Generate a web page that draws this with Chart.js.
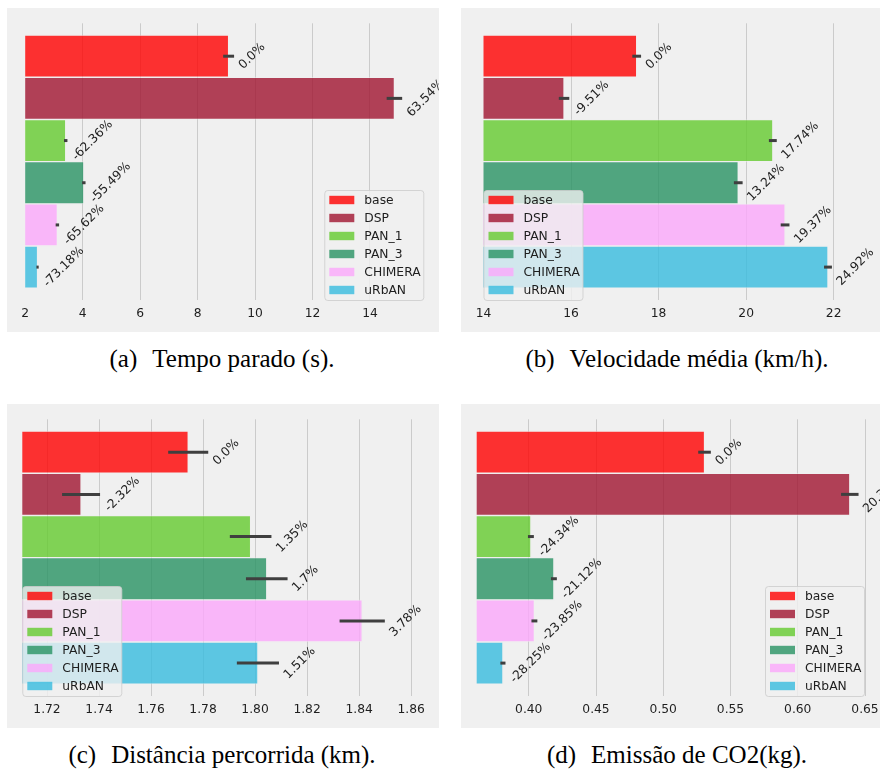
<!DOCTYPE html>
<html lang="pt">
<head>
    <meta charset="UTF-8">
    <title>Resultados</title>
    <script src="https://cdn.jsdelivr.net/npm/chart.js"></script>
    <style>
        body {
            margin: 0;
            background: #ffffff;
            width: 880px;
            height: 774px;
            position: relative;
            overflow: hidden;
        }
        canvas {
            position: absolute;
            background: #f0f0f0;
        }
        .caption {
            position: absolute;
            width: 440px;
            text-align: center;
            font-family: 'Liberation Serif', 'Times New Roman', serif;
            font-size: 25px;
            line-height: 25px;
            color: #000;
            white-space: nowrap;
        }
        .caption span + span {
            margin-left: 15px;
        }
    </style>
</head>
<body>
<canvas id="chartA" width="432" height="324" style="left:7px; top:8px;"></canvas>
<canvas id="chartB" width="419" height="324" style="left:461px; top:8px;"></canvas>
<canvas id="chartC" width="432" height="324" style="left:7px; top:404px;"></canvas>
<canvas id="chartD" width="419" height="324" style="left:461px; top:404px;"></canvas>

<div class="caption" style="left:2px; top:346px;"><span>(a)</span><span>Tempo parado (s).</span></div>
<div class="caption" style="left:457px; top:346px;"><span>(b)</span><span>Velocidade média (km/h).</span></div>
<div class="caption" style="left:2px; top:742px;"><span>(c)</span><span>Distância percorrida (km).</span></div>
<div class="caption" style="left:457px; top:742px;"><span>(d)</span><span>Emissão de CO2(kg).</span></div>

<script>
    const methods = ['base', 'DSP', 'PAN_1', 'PAN_3', 'CHIMERA', 'uRbAN'];
    const colors = [
        'rgba(255, 0, 0, 0.8)',
        'rgba(160, 20, 48, 0.8)',
        'rgba(100, 202, 46, 0.8)',
        'rgba(40, 146, 99, 0.8)',
        'rgba(251, 168, 251, 0.8)',
        'rgba(55, 187, 222, 0.8)'
    ];

    const tempoValues = [9.08, 14.85, 3.41, 4.04, 3.12, 2.43];
    const tempoErrors = [0.19, 0.27, 0.06, 0.06, 0.06, 0.04];
    const tempoPct = ['0.0%', '63.54%', '-62.36%', '-55.49%', '-65.62%', '-73.18%'];
    const tempoTicks = ['2', '4', '6', '8', '10', '12', '14'];

    const velValues = [17.50, 15.84, 20.61, 19.82, 20.89, 21.87];
    const velErrors = [0.10, 0.12, 0.09, 0.10, 0.10, 0.09];
    const velPct = ['0.0%', '-9.51%', '17.74%', '13.24%', '19.37%', '24.92%'];
    const velTicks = ['14', '16', '18', '20', '22'];

    const distValues = [1.7743, 1.7331, 1.7983, 1.8045, 1.8412, 1.8011];
    const distErrors = [0.0077, 0.0073, 0.0080, 0.0080, 0.0087, 0.0081];
    const distPct = ['0.0%', '-2.32%', '1.35%', '1.7%', '3.78%', '1.51%'];
    const distTicks = ['1.72', '1.74', '1.76', '1.78', '1.80', '1.82', '1.84', '1.86'];

    const co2Values = [0.5307, 0.6387, 0.4016, 0.4187, 0.4042, 0.3808];
    const co2Errors = [0.0047, 0.0065, 0.0022, 0.0022, 0.0022, 0.0019];
    const co2Pct = ['0.0%', '20.37%', '-24.34%', '-21.12%', '-23.85%', '-28.25%'];
    const co2Ticks = ['0.40', '0.45', '0.50', '0.55', '0.60', '0.65'];

    const fontSize = 12.3;
    const tickFont = { family: 'DejaVu Sans', size: fontSize };
    const textColor = '#1e1e1e';

    const drawLegend = (chart, side) => {
        const ctx = chart.ctx;
        const area = chart.chartArea;
        const w = 100, h = 111;
        const left = side === 'right' ? area.right - w : area.left;
        const top = area.bottom + 1 - h;
        ctx.save();
        ctx.beginPath();
        ctx.roundRect(left + 0.5, top + 0.5, w - 1, h - 1, 3);
        ctx.fillStyle = 'rgba(240, 240, 240, 0.8)';
        ctx.fill();
        ctx.strokeStyle = 'rgba(204, 204, 204, 0.8)';
        ctx.lineWidth = 1;
        ctx.stroke();
        ctx.font = fontSize + 'px "DejaVu Sans"';
        ctx.textBaseline = 'middle';
        ctx.textAlign = 'left';
        methods.forEach((name, i) => {
            const cy = top + 10 + 18 * i;
            ctx.fillStyle = colors[i];
            ctx.fillRect(left + 5, cy - 4.2, 25, 8.4);
            ctx.fillStyle = textColor;
            ctx.fillText(name, left + 40, cy + 0.5);
        });
        ctx.restore();
    };

    const drawErrorsAndLabels = (chart, values, errors, pct) => {
        const ctx = chart.ctx;
        const xs = chart.scales.x;
        const ys = chart.scales.y;
        ctx.save();
        ctx.strokeStyle = '#3f3f3f';
        ctx.lineWidth = 3;
        values.forEach((v, i) => {
            const cy = ys.getPixelForValue(i);
            ctx.beginPath();
            ctx.moveTo(xs.getPixelForValue(v - errors[i]), cy);
            ctx.lineTo(xs.getPixelForValue(v + errors[i]), cy);
            ctx.stroke();
        });
        ctx.font = fontSize + 'px "DejaVu Sans"';
        ctx.fillStyle = textColor;
        ctx.textAlign = 'center';
        ctx.textBaseline = 'middle';
        values.forEach((v, i) => {
            const txt = pct[i];
            const len = ctx.measureText(txt).width;
            const boxW = (len + 14) / Math.SQRT2;
            const x0 = xs.getPixelForValue(v + errors[i]) + 2;
            const cy = ys.getPixelForValue(i);
            ctx.save();
            ctx.translate(x0 + boxW / 2, cy);
            ctx.rotate(-Math.PI / 4);
            ctx.fillText(txt, 0, 0);
            ctx.restore();
        });
        ctx.restore();
    };

    const makeChart = (id, opts) => {
        const tickValues = opts.ticks.map(Number);
        return new Chart(document.getElementById(id), {
            type: 'bar',
            data: {
                datasets: [{
                    data: opts.values.map((v, i) => ({ x: v, y: i })),
                    backgroundColor: colors,
                    borderColor: 'rgba(240, 240, 240, 0.5)',
                    borderWidth: 1,
                    barPercentage: 1,
                    categoryPercentage: 1
                }]
            },
            options: {
                indexAxis: 'y',
                responsive: false,
                animation: false,
                events: [],
                layout: {
                    padding: { left: opts.padLeft, right: opts.padRight, top: 15.3, bottom: 0 }
                },
                plugins: {
                    legend: { display: false },
                    tooltip: { enabled: false }
                },
                scales: {
                    x: {
                        type: 'linear',
                        min: opts.min,
                        max: opts.max,
                        border: { display: false },
                        grid: {
                            drawTicks: false,
                            lineWidth: 1,
                            color: (c) => (c.tick && c.tick.value <= opts.min + 1e-9) ? 'rgba(0,0,0,0)' : '#cbcbcb'
                        },
                        ticks: {
                            font: tickFont,
                            color: textColor,
                            padding: 6,
                            maxRotation: 0,
                            autoSkip: false,
                            callback: (value, index) => opts.ticks[index]
                        },
                        afterBuildTicks: (scale) => {
                            scale.ticks = tickValues.map(v => ({ value: v }));
                        },
                        afterFit: (scale) => {
                            scale.height = 32;
                            scale.paddingLeft = 0;
                            scale.paddingRight = 0;
                        }
                    },
                    y: {
                        type: 'linear',
                        display: false,
                        offset: false,
                        reverse: true,
                        min: -0.78,
                        max: 5.78,
                        afterBuildTicks: (scale) => {
                            scale.ticks = methods.map((m, i) => ({ value: i }));
                        }
                    }
                }
            },
            plugins: [{
                id: 'extras',
                afterDatasetsDraw: (chart) => drawErrorsAndLabels(chart, opts.values, opts.errors, opts.pct),
                afterDraw: (chart) => drawLegend(chart, opts.legendSide)
            }]
        });
    };

    makeChart('chartA', {
        values: tempoValues, errors: tempoErrors, pct: tempoPct, ticks: tempoTicks,
        min: 2, max: 15.89, padLeft: 18.2, padRight: 14.7, legendSide: 'right'
    });
    makeChart('chartB', {
        values: velValues, errors: velErrors, pct: velPct, ticks: velTicks,
        min: 14, max: 22.83, padLeft: 22.5, padRight: 10, legendSide: 'left'
    });
    makeChart('chartC', {
        values: distValues, errors: distErrors, pct: distPct, ticks: distTicks,
        min: 1.7105, max: 1.8665, padLeft: 15.3, padRight: 11, legendSide: 'left'
    });
    makeChart('chartD', {
        values: co2Values, errors: co2Errors, pct: co2Pct, ticks: co2Ticks,
        min: 0.3613, max: 0.65, padLeft: 15.7, padRight: 15, legendSide: 'right'
    });
</script>
</body>
</html>
